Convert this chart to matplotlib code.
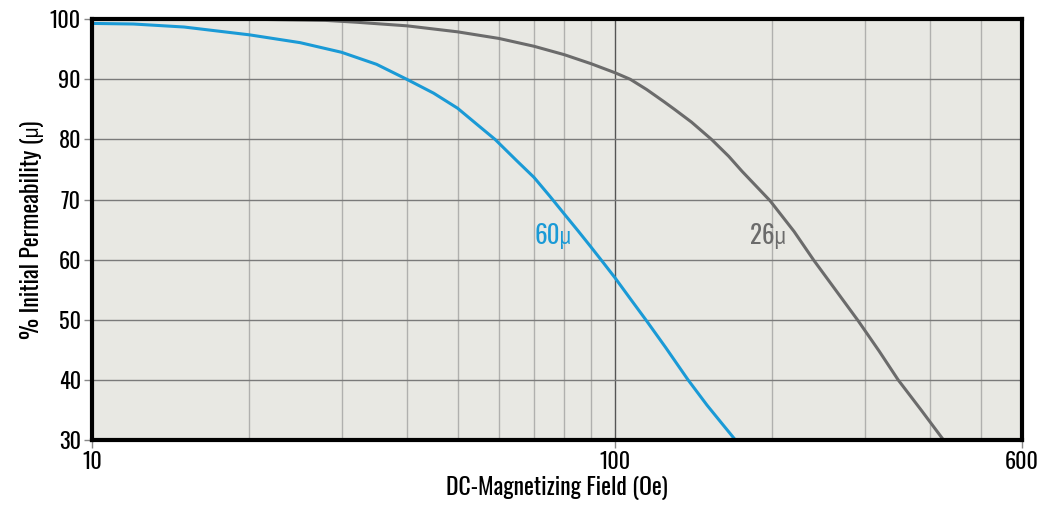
import matplotlib
matplotlib.use("Agg")
import matplotlib.pyplot as plt
from matplotlib.ticker import FixedLocator, NullFormatter

plt.rcParams['font.family'] = ['Oswald', 'PT Sans Narrow', 'DejaVu Sans']
plt.rcParams['font.weight'] = 'medium'

# 60u curve
field_60 = [10, 12, 15, 20, 25, 30, 35, 40, 45, 50, 55, 59, 65, 70, 75, 80, 85, 90, 95, 100,
            107, 115, 125, 138, 150, 160, 170]
perm_60 = [99.3, 99.2, 98.7, 97.4, 96.1, 94.5, 92.5, 90.0, 87.7, 85.2, 82.2, 80.0, 76.4, 73.7, 70.6, 67.6, 64.8, 62.1, 59.5, 57.0,
           53.5, 49.8, 45.4, 40.0, 35.8, 32.8, 30.0]

# 26u curve
field_26 = [10, 20, 28, 32, 40, 50, 60, 70, 80, 90, 100, 107, 115, 124, 130, 140, 153, 165, 175, 198,
            220, 240, 265, 292, 320, 348, 385, 425]
perm_26 = [100, 100, 99.8, 99.5, 98.9, 97.9, 96.8, 95.5, 94.1, 92.6, 91.1, 90.0, 88.3, 86.3, 85.0, 82.9, 80.0, 77.2, 74.7, 69.8,
           64.7, 59.9, 54.8, 49.8, 44.8, 40.0, 35.0, 30.0]

y_ticks = [30, 40, 50, 60, 70, 80, 90, 100]
x_ticks = [10, 100, 600]
x_minor = [20, 30, 40, 50, 60, 70, 80, 90, 200, 300, 400, 500]

fig = plt.figure(figsize=(10.49, 5.19), dpi=100)
ax = fig.add_axes([0.0877, 0.152, 0.8865, 0.811])
ax.set_facecolor('#e8e8e3')

ax.set_xscale('log')
ax.set_xlim(10, 600)
ax.set_ylim(30, 100)

# grid
for v in x_minor:
    ax.axvline(v, color='#b0b0ae', lw=1, zorder=1)
ax.axvline(100, color='#555555', lw=1, zorder=1)
for h in y_ticks[1:-1]:
    ax.axhline(h, color='#7a7a7a', lw=1, zorder=1)

ax.plot(field_60, perm_60, color='#1a9ad6', lw=2.2, zorder=2)
ax.plot(field_26, perm_26, color='#6b6b6b', lw=2.2, zorder=2)

ax.text(76, 64, '60μ', color='#1a9ad6', fontsize=18, ha='center', va='center')
ax.text(196, 64, '26μ', color='#6b6b6b', fontsize=18, ha='center', va='center')

ax.xaxis.set_major_locator(FixedLocator(x_ticks))
ax.xaxis.set_minor_locator(FixedLocator([]))
ax.xaxis.set_minor_formatter(NullFormatter())
ax.set_xticks(x_ticks)
ax.set_xticklabels([str(t) for t in x_ticks])
ax.set_yticks(y_ticks)
ax.set_yticklabels([str(t) for t in y_ticks])
ax.tick_params(axis='both', length=6, width=1, color='#888888', labelsize=16, pad=2)

for s in ax.spines.values():
    s.set_linewidth(3)
    s.set_color('black')

ax.set_xlabel('DC-Magnetizing Field (Oe)', fontsize=17, labelpad=2)
ax.set_ylabel('% Initial Permeability (μ)', fontsize=17, labelpad=4)

fig.savefig('out.png', dpi=100)
